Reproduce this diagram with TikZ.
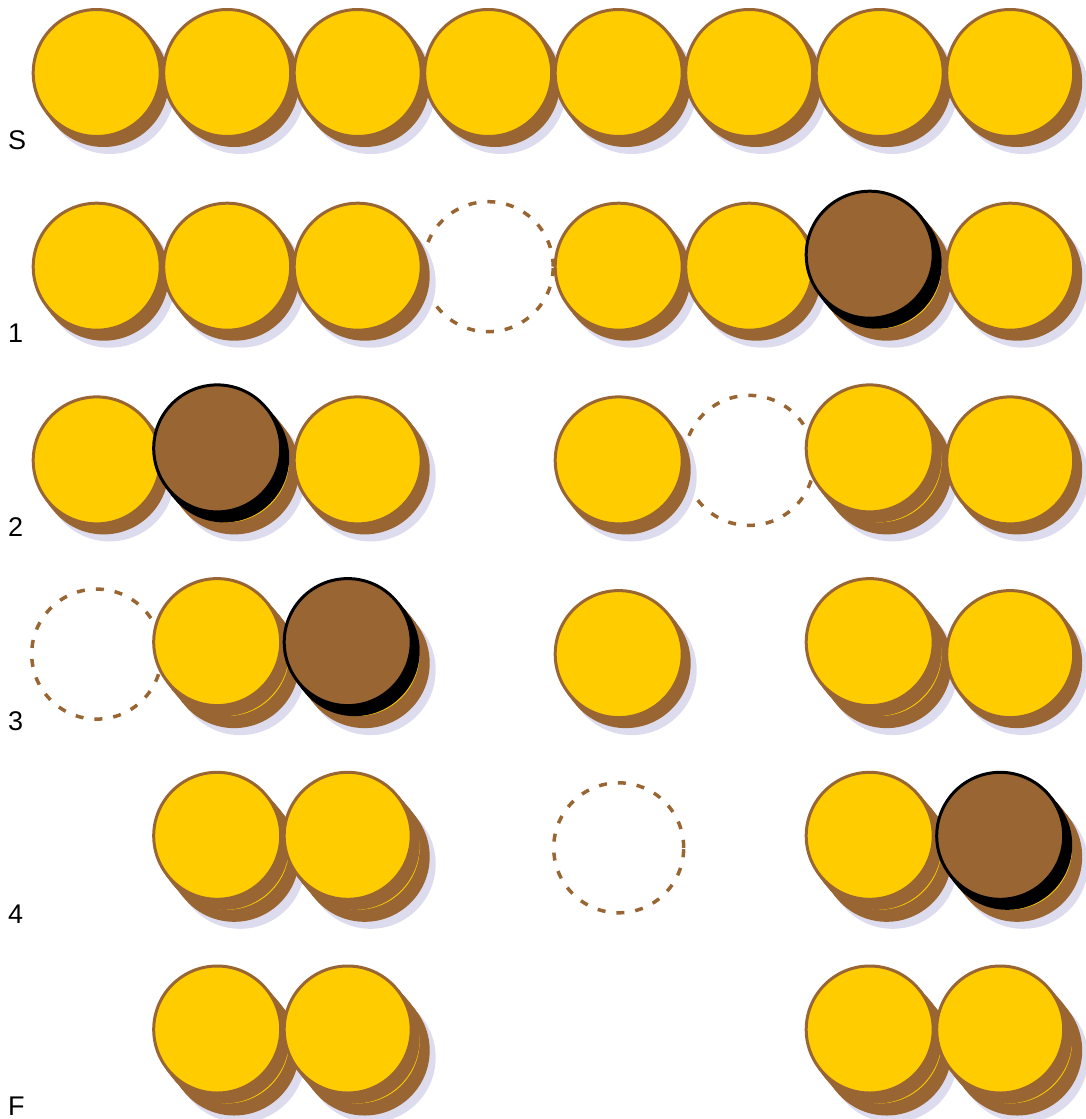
\documentclass[tikz,border=0pt]{standalone}
\usepackage{fontspec}
\setmainfont{Liberation Sans}

\definecolor{coinface}{HTML}{FFCC00}
\definecolor{coinrim}{HTML}{996633}
\definecolor{coinshadow}{HTML}{DDDBEE}

\tikzset{
  rowlabel/.style={anchor=base west, inner sep=0pt, font=\fontsize{27}{32}\selectfont},
  emptyspot/.style={draw=coinrim, line width=3.5pt, dash pattern=on 8pt off 11pt}
}

% one coin: x, y, face colour, rim colour
\newcommand{\coin}[4]{%
  \fill[#4] (#1-51.3,#2+39.9) -- (#1-44.3,#2+48.9) -- (#1+58.3,#2-30.9) -- (#1+51.3,#2-39.9) -- cycle;
  \draw[#4, fill=#4, line width=3pt] (#1+7,#2+9) circle (63.5pt);
  \draw[#4, fill=#3, line width=3pt] (#1,#2) circle (63.5pt);
}
\newcommand{\onecoin}[2]{%
  \pgfmathsetmacro\cx{96.7+130.5*(#1-1)}%
  \pgfmathsetmacro\cy{73+193.7*#2}%
  \fill[coinshadow] (\cx+13,\cy+16) circle (65pt);
  \coin{\cx}{\cy}{coinface}{coinrim}
}
\newcommand{\twocoins}[4]{%
  \pgfmathsetmacro\cx{96.7+130.5*(#1-1)}%
  \pgfmathsetmacro\cy{73+193.7*#2}%
  \fill[coinshadow] (\cx+13,\cy+16) circle (65pt);
  \coin{\cx}{\cy}{coinface}{coinrim}
  \coin{\cx-10}{\cy-12}{#3}{#4}
}
\newcommand{\gapcoin}[2]{%
  \pgfmathsetmacro\cx{96.7+130.5*(#1-1)}%
  \pgfmathsetmacro\cy{73+193.7*#2}%
  \draw[emptyspot] (\cx,\cy) circle (65pt);
}

\begin{document}
\begin{tikzpicture}[x=1pt,y=-1pt]
\useasboundingbox (0,0) rectangle (1086,1119);

% start
\foreach \i in {1,...,8} {\onecoin{\i}{0}}
\node[rowlabel] (lS) at (8,149) {S};

% move 1
\gapcoin{4}{1}
\foreach \i in {1,2,3,5,6} {\onecoin{\i}{1}}
\twocoins{7}{1}{coinrim}{black}
\onecoin{8}{1}
\node[rowlabel] (l1) at (8,342.7) {1};

% move 2
\gapcoin{6}{2}
\onecoin{1}{2}
\twocoins{2}{2}{coinrim}{black}
\onecoin{3}{2}
\onecoin{5}{2}
\twocoins{7}{2}{coinface}{coinrim}
\onecoin{8}{2}
\node[rowlabel] (l2) at (8,536.4) {2};

% move 3
\gapcoin{1}{3}
\twocoins{2}{3}{coinface}{coinrim}
\twocoins{3}{3}{coinrim}{black}
\onecoin{5}{3}
\twocoins{7}{3}{coinface}{coinrim}
\onecoin{8}{3}
\node[rowlabel] (l3) at (8,730.1) {3};

% move 4
\gapcoin{5}{4}
\twocoins{2}{4}{coinface}{coinrim}
\twocoins{3}{4}{coinface}{coinrim}
\twocoins{7}{4}{coinface}{coinrim}
\twocoins{8}{4}{coinrim}{black}
\node[rowlabel] (l4) at (8,923.8) {4};

% finish
\foreach \i in {2,3,7,8} {\twocoins{\i}{5}{coinface}{coinrim}}
\node[rowlabel] (lF) at (8,1115) {F};

\end{tikzpicture}
\end{document}
